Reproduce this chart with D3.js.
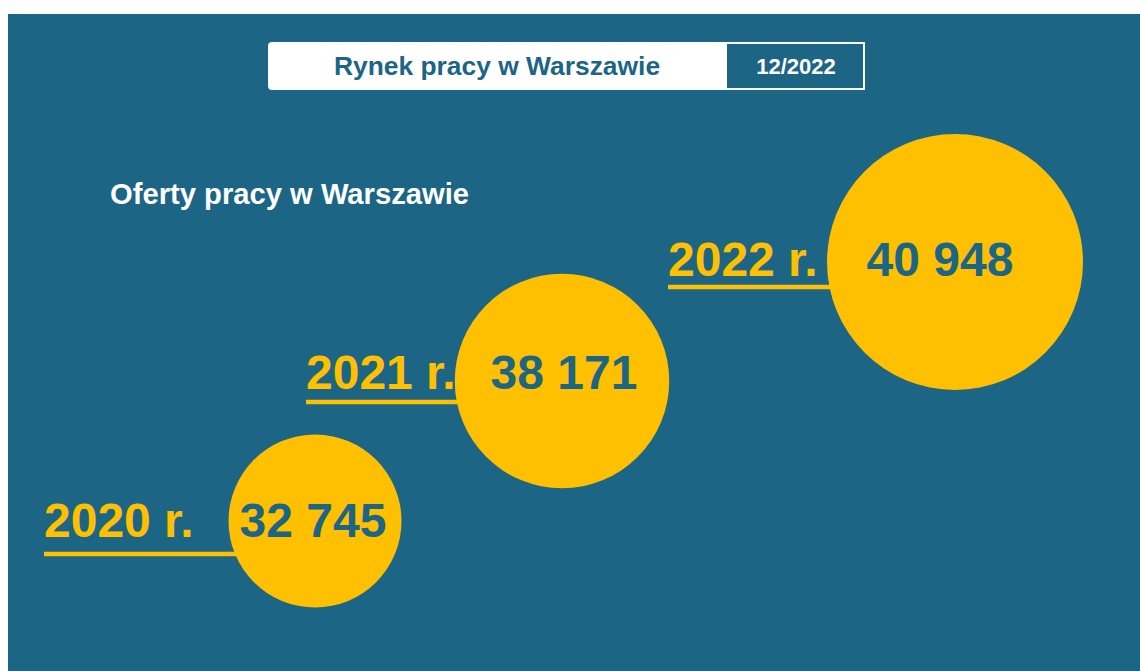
<!DOCTYPE html>
<html>
<head>
<meta charset="utf-8">
<script src="https://cdn.jsdelivr.net/npm/d3@7"></script>
<style>
  body { margin: 0; background: #ffffff; }
  svg { display: block; }
  text { font-family: "Liberation Sans", Arial, sans-serif; font-weight: bold; }
</style>
</head>
<body>
<div id="chart"></div>
<script>
// data
const years = ['2020 r.', '2021 r.', '2022 r.'];
const offers = [32745, 38171, 40948];
const TITLE = 'Rynek pracy w Warszawie';
const PERIOD = '12/2022';
const SUBTITLE = 'Oferty pracy w Warszawie';

const WIDTH = 1140;
const HEIGHT = 671;
const BLUE = '#1c6585';
const YELLOW = '#fec000';

const data = years.map((y, i) => ({ year: y, value: offers[i], i: i }));
const idx = data.map(d => d.i);

// layout scales (the infographic places bubbles on a rising diagonal)
const cx = d3.scaleLinear().domain(idx).range([315, 562, 955]);
const cy = d3.scaleLinear().domain(idx).range([521, 381, 262]);
const radius = d3.scaleLinear().domain([0, 2]).range([86.5, 128]);
const labelX = d3.scaleLinear().domain(idx).range([44, 306, 668]);
const baseY = d3.scaleLinear().domain(idx).range([537, 389, 276]);
const numX = d3.scaleLinear().domain(idx).range([313, 564, 940]);
const lineY = d3.scaleLinear().domain(idx).range([554, 402, 287]);

const fmt = v => d3.format(',')(v).replace(/,/g, ' ');

const svg = d3.select('#chart')
  .append('svg')
  .attr('width', WIDTH)
  .attr('height', HEIGHT);

// background panel
svg.append('rect')
  .attr('x', 8).attr('y', 14)
  .attr('width', WIDTH - 8).attr('height', HEIGHT - 14)
  .attr('fill', BLUE);

// header box
const header = svg.append('g');
header.append('rect')
  .attr('x', 268).attr('y', 42)
  .attr('width', 597).attr('height', 48)
  .attr('rx', 4)
  .attr('fill', '#ffffff');
header.append('rect')
  .attr('x', 726).attr('y', 43)
  .attr('width', 138).attr('height', 46)
  .attr('fill', BLUE)
  .attr('stroke', '#ffffff')
  .attr('stroke-width', 2);
header.append('text')
  .attr('x', 497).attr('y', 75)
  .attr('text-anchor', 'middle')
  .attr('font-size', 26.4)
  .attr('fill', BLUE)
  .text(TITLE);
header.append('text')
  .attr('x', 796).attr('y', 74)
  .attr('text-anchor', 'middle')
  .attr('font-size', 22)
  .attr('fill', '#ffffff')
  .text(PERIOD);

svg.append('text')
  .attr('x', 110).attr('y', 204)
  .attr('font-size', 29.2)
  .attr('fill', '#ffffff')
  .text(SUBTITLE);

// underlines go behind the bubbles
svg.selectAll('line.under')
  .data(data)
  .enter()
  .append('line')
  .attr('class', 'under')
  .attr('x1', d => labelX(d.i))
  .attr('x2', d => cx(d.i))
  .attr('y1', d => lineY(d.i))
  .attr('y2', d => lineY(d.i))
  .attr('stroke', YELLOW)
  .attr('stroke-width', 4.5);

svg.selectAll('circle')
  .data(data)
  .enter()
  .append('circle')
  .attr('cx', d => cx(d.i))
  .attr('cy', d => cy(d.i))
  .attr('r', d => radius(d.i))
  .attr('fill', YELLOW);

svg.selectAll('text.year')
  .data(data)
  .enter()
  .append('text')
  .attr('class', 'year')
  .attr('x', d => labelX(d.i))
  .attr('y', d => baseY(d.i))
  .attr('font-size', 48)
  .attr('fill', YELLOW)
  .text(d => d.year);

svg.selectAll('text.value')
  .data(data)
  .enter()
  .append('text')
  .attr('class', 'value')
  .attr('x', d => numX(d.i))
  .attr('y', d => baseY(d.i))
  .attr('text-anchor', 'middle')
  .attr('font-size', 48)
  .attr('fill', BLUE)
  .text(d => fmt(d.value));
</script>
</body>
</html>
